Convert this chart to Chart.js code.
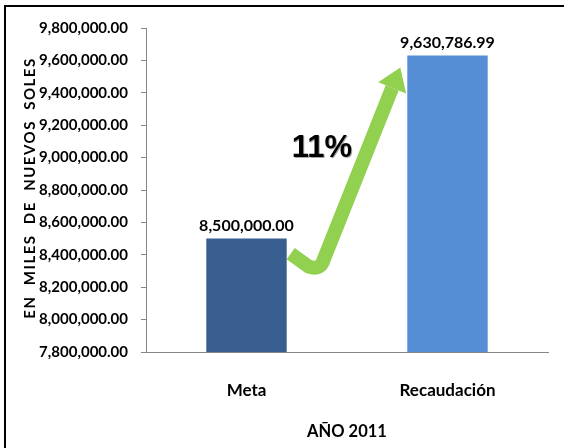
<!DOCTYPE html>
<html>
<head>
<meta charset="utf-8">
<script src="https://cdn.jsdelivr.net/npm/chart.js@4.4.1/dist/chart.umd.min.js"></script>
<style>
    body { margin: 0; background: #fff; overflow: hidden; }
    #wrap { position: relative; width: 564px; height: 448px; }
    #marco { position: absolute; left: 4px; top: 5px; width: 700px; height: 600px;
        border-left: 2px solid #000; border-top: 2px solid #000; pointer-events: none; }
</style>
</head>
<body>
<div id="wrap">
    <canvas id="grafico" width="564" height="448"></canvas>
    <div id="marco"></div>
</div>
<script>
//datos
const categorias = ['Meta', 'Recaudación']
const valores = [8500000.00, 9630786.99]
const colores = ['#385f90', '#558ed5']
const yMin = 7800000
const yMax = 9800000
const yPaso = 200000
const porcentaje = '11%'
const tituloY = 'EN  MILES  DE  NUEVOS  SOLES'
const tituloX = 'AÑO 2011'

const fuente = 'Lato, Calibri, sans-serif'

function formato(v) {
    return v.toLocaleString('en-US', { minimumFractionDigits: 2, maximumFractionDigits: 2 })
}

//etiquetas encima de las barras + flecha + titulo vertical
const extras = {
    id: 'extras',
    afterDatasetsDraw(chart) {
        const ctx = chart.ctx
        const area = chart.chartArea
        const meta = chart.getDatasetMeta(0)
        const b0 = meta.data[0]
        const b1 = meta.data[1]
        const w0 = b0.width / 2
        const w1 = b1.width / 2
        ctx.save()
        //valores
        ctx.fillStyle = '#000'
        ctx.font = 'bold 16px ' + fuente
        ctx.textAlign = 'center'
        ctx.textBaseline = 'middle'
        meta.data.forEach((bar, i) => {
            ctx.fillText(formato(valores[i]), bar.x, bar.y - 13)
        })
        //titulo del eje y
        ctx.save()
        ctx.translate(30, (area.top + area.bottom) / 2 - 2)
        ctx.rotate(-Math.PI / 2)
        ctx.font = 'bold 15px ' + fuente
        ctx.letterSpacing = '1.5px'
        ctx.fillText(tituloY, 0, 0)
        ctx.restore()
        //flecha verde
        const x0 = b0.x + w0 + 4, y0 = b0.y + 15
        const xb = b0.x + w0 + 34, yb = b0.y + 29
        const xt = b1.x - w1 - 7, yt = b1.y + 12
        const ang = Math.atan2(yt - yb, xt - xb)
        const hl = 22
        const xs = xt - Math.cos(ang) * hl, ys = yt - Math.sin(ang) * hl
        ctx.strokeStyle = '#92d050'
        ctx.lineWidth = 14
        ctx.lineJoin = 'round'
        ctx.beginPath()
        ctx.moveTo(x0, y0)
        ctx.lineTo(xb - 12, yb - 1)
        ctx.quadraticCurveTo(xb, yb + 3, xb + 3, yb - 8)
        ctx.lineTo(xs, ys)
        ctx.stroke()
        const px = -Math.sin(ang), py = Math.cos(ang)
        ctx.fillStyle = '#92d050'
        ctx.beginPath()
        ctx.moveTo(xt, yt)
        ctx.lineTo(xs + px * 15, ys + py * 15)
        ctx.lineTo(xs - px * 15, ys - py * 15)
        ctx.closePath()
        ctx.fill()
        //porcentaje
        ctx.fillStyle = '#000'
        ctx.font = 'bold 31px "Liberation Sans", Arial, sans-serif'
        ctx.shadowColor = 'rgba(0,0,0,0.35)'
        ctx.shadowOffsetX = 1
        ctx.shadowOffsetY = 1
        ctx.fillText(porcentaje, (b0.x + b1.x) / 2 - 25, (b0.y + b1.y) / 2 + 1)
        ctx.restore()
    }
}

const config = {
    type: 'bar',
    data: {
        labels: categorias,
        datasets: [{
            data: valores,
            backgroundColor: colores,
            borderWidth: 0,
            categoryPercentage: 1,
            barPercentage: 0.4
        }]
    },
    options: {
        animation: false,
        responsive: false,
        plugins: {
            legend: { display: false },
            tooltip: { enabled: false }
        },
        layout: {
            padding: { top: 28, right: 16, bottom: 6, left: 0 }
        },
        scales: {
            x: {
                afterFit(scale) { scale.height = 90 },
                grid: { display: false, drawTicks: false },
                border: { color: '#868686', width: 1 },
                ticks: { color: '#000', padding: 28, font: { family: fuente, size: 17, weight: 'bold' } },
                title: {
                    display: true, text: tituloX, color: '#000',
                    padding: { top: 0, bottom: 0 },
                    font: { family: fuente, size: 16.5, weight: 'bold' }
                }
            },
            y: {
                min: yMin,
                max: yMax,
                afterFit(scale) { scale.width = 146 },
                grid: { drawOnChartArea: false, tickLength: 5, color: '#868686' },
                border: { color: '#868686', width: 1 },
                ticks: {
                    stepSize: yPaso, color: '#000', padding: 13,
                    font: { family: fuente, size: 15, weight: 'bold' },
                    callback: (v) => formato(v)
                }
            }
        }
    },
    plugins: [extras]
}

new Chart(document.getElementById('grafico'), config)
</script>
</body>
</html>
